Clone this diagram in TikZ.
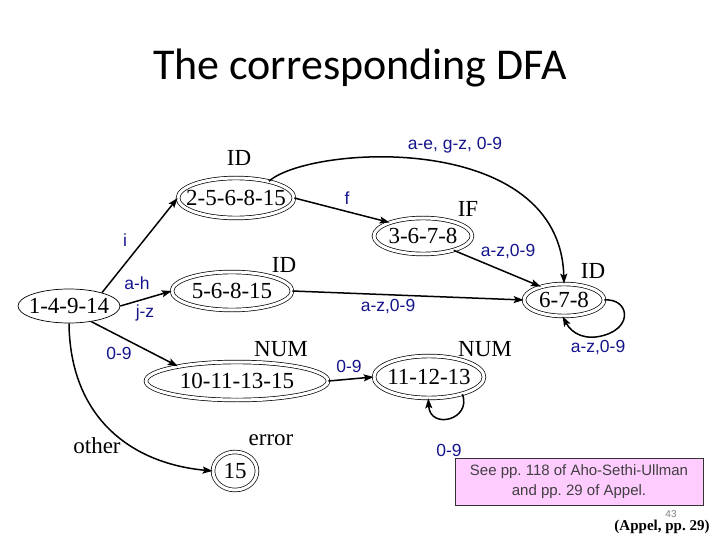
\documentclass[tikz,border=0pt]{standalone}
\usepackage{fontspec}
\setmainfont{Liberation Serif}
\setsansfont{Liberation Sans}
\newfontfamily\titlefont{Carlito}
\usetikzlibrary{arrows.meta,shapes.geometric}
\definecolor{lblblue}{RGB}{20,20,140}
\definecolor{notepink}{RGB}{255,204,255}
\tikzset{
  state/.style={ellipse, draw=black, line width=0.7pt, inner sep=0pt, font=\fontsize{23}{27}\selectfont},
  accstate/.style={state, double=white, double distance=3pt},
  tag/.style={font=\fontsize{23}{27}\selectfont, inner sep=0pt},
  lbl/.style={font=\sffamily\fontsize{17.5}{20}\selectfont, text=lblblue, inner sep=0pt},
  edge/.style={line width=1.5pt, -{Stealth[length=10pt,width=7pt,inset=2pt]}},
}
\newcommand{\zb}[1]{\makebox[0pt]{#1}}
\begin{document}
\begin{tikzpicture}[x=1pt,y=-1pt]
\useasboundingbox (0,0) rectangle (720,540);
% title
\node[font=\titlefont\fontsize{44}{50}\selectfont, inner sep=0pt] (title) at (360,68) {The corresponding DFA};
% states
\node[state, minimum width=102pt, minimum height=34pt] (n1) at (69,306) {\zb{1-4-9-14}};
\node[accstate, minimum width=116pt, minimum height=40pt] (n2) at (236,198) {\zb{2-5-6-8-15}};
\node[accstate, minimum width=120pt, minimum height=38pt] (n3) at (232,291) {\zb{5-6-8-15}};
\node[accstate, minimum width=98pt, minimum height=36pt] (n4) at (423,236) {\zb{3-6-7-8}};
\node[accstate, minimum width=80pt, minimum height=32pt] (n5) at (564,300) {\zb{6-7-8}};
\node[accstate, minimum width=182pt, minimum height=38pt] (n6) at (237,381) {\zb{10-11-13-15}};
\node[accstate, minimum width=44pt, minimum height=38pt] (n7) at (235,471) {\zb{15}};
\node[accstate, minimum width=110pt, minimum height=42pt] (n8) at (429,377) {\zb{11-12-13}};
% state tags
\node[tag] (t2) at (239,158) {ID};
\node[tag] (t3) at (284,265) {ID};
\node[tag] (t4) at (468,209) {IF};
\node[tag] (t5) at (593,271) {ID};
\node[tag] (t6) at (281,349) {NUM};
\node[tag] (t7) at (271,440) {error};
\node[tag] (t8) at (485,349) {NUM};
% edges
\draw[edge] (n1.22) -- (n2.west);
\draw[edge] (n1.east) -- (n3.west);
\draw[edge] (n1.-35) -- (n6.166);
\draw[edge] (n1.south) .. controls (70,415) and (128,463) .. (n7.west);
\draw[edge] (n2.east) -- (n4.158);
\draw[edge] (n2.27) .. controls (310,145) and (560,130) .. (n5.north);
\draw[edge] (n4.-25) -- (n5.150);
\draw[edge] (n3.east) -- (n5.west);
\draw[edge] (n5.east) .. controls (628,298) and (634,326) .. (605,335) .. controls (586,341) and (572,334) .. (n5.-95);
\draw[edge] (n6.east) -- (n8.west);
\draw[edge] (n8.-27) .. controls (472,420) and (430,430) .. (n8.-92);
% edge labels
\node[lbl] (l1) at (125,240) {i};
\node[lbl] (l2) at (137,283) {a-h};
\node[lbl] (l3) at (145,313) {j-z};
\node[lbl] (l4) at (119,353) {0-9};
\node[tag] (l5) at (97,446) {other};
\node[lbl] (l6) at (347,198) {f};
\node[lbl] (l7) at (455,145) {a-e, g-z, 0-9};
\node[lbl] (l8) at (508,252) {a-z,0-9};
\node[lbl] (l9) at (388,307) {a-z,0-9};
\node[lbl] (l10) at (598,348) {a-z,0-9};
\node[lbl] (l11) at (349,366) {0-9};
\node[lbl] (l12) at (449,450) {0-9};
% note
\node[draw=black!80, line width=0.6pt, fill=notepink, minimum width=248pt, minimum height=47pt, inner sep=0pt,
      align=center, text=black!75, font=\sffamily\fontsize{15}{19.5}\selectfont] (note) at (579,481.5)
      {See pp.\ 118 of Aho-Sethi-Ullman\\and pp.\ 29 of Appel.};
\node[text=black!50, font=\sffamily\fontsize{10}{12}\selectfont, inner sep=0pt] (pg) at (671,514) {43};
\node[font=\bfseries\fontsize{15}{18}\selectfont, inner sep=0pt] (ref) at (662,527) {(Appel, pp.\ 29)};
\end{tikzpicture}
\end{document}
